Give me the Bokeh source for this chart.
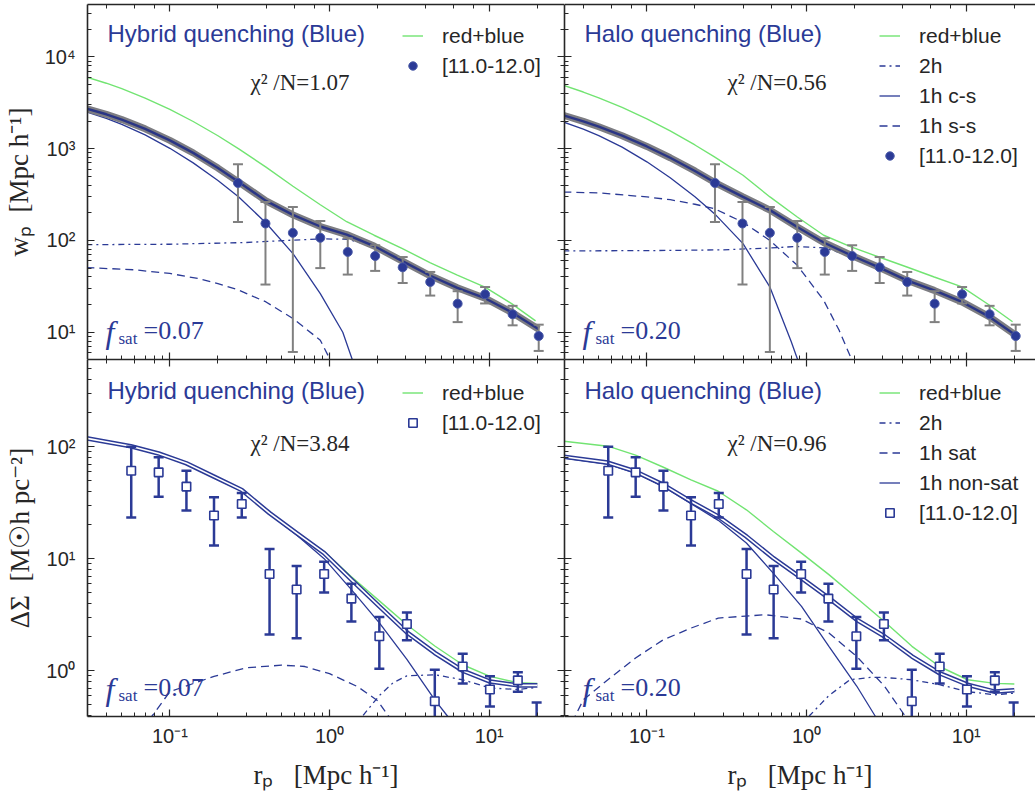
import math
from bokeh.plotting import figure
from bokeh.models import Range1d, Legend, LegendItem, Label, LogAxis, CustomJSTickFormatter
from bokeh.layouts import column, row
from bokeh.embed import file_html
from bokeh.resources import INLINE

# ---------------- data: projected correlation function w_p ----------------
WP_R = [0.267, 0.397, 0.589, 0.875, 1.30, 1.93, 2.87, 4.27, 6.34, 9.42, 14.0, 20.4]
WP = [423, 153, 121, 107, 75, 67.8, 51, 35.3, 20.5, 25.9, 15.7, 9.1]
WP_HI = [676, 262, 232, 163, 106, 88.7, 66, 45.4, 28, 31.1, 19.4, 12.1]
WP_LO = [159, 33.1, 6.1, 50, 42.5, 46.6, 34.4, 25.1, 12.9, 20.6, 11.9, 6.26]

# ---------------- data: lensing Delta Sigma ----------------
DS_R = [0.0573, 0.0851, 0.127, 0.189, 0.282, 0.421, 0.622, 0.925, 1.37, 2.05, 3.05, 4.56, 6.82, 10.1, 15.1, 19.8]
DS = [61, 59, 44, 24.3, 30.8, 7.3, 5.3, 7.3, 4.4, 2.03, 2.61, 0.533, 1.09, 0.68, 0.82, 0.2]
DS_HI = [100, 80.4, 61, 35.4, 38.5, 12.2, 8.6, 9.4, 5.97, 3.01, 3.31, 1.02, 1.42, 0.89, 0.97, 0.52]
DS_LO = [23.3, 35.8, 26.9, 13.1, 23.3, 2.1, 1.95, 5.0, 2.75, 1.04, 1.87, 0.2, 0.77, 0.48, 0.65, 0.1]

# ---------------- model curves, hybrid quenching, w_p ----------------
HW_GREEN_R = [0.03, 0.04, 0.05, 0.07, 0.1, 0.14, 0.2, 0.27, 0.4, 0.59, 0.875, 1.28, 1.9, 2.84, 4.25, 6.31, 9.4, 13.8, 19.5]
HW_GREEN = [6040, 5165, 4500, 3556, 2673, 1977, 1383, 996, 630, 390, 245, 160, 114, 82, 57.5, 42, 31, 20.5, 13.3]
HW_TOT_R = [0.03, 0.04, 0.05, 0.07, 0.1, 0.14, 0.2, 0.27, 0.4, 0.59, 0.875, 1.28, 1.9, 2.84, 4.25, 6.31, 9.4, 13.8, 20.4]
HW_TOT = [2735, 2370, 2075, 1645, 1230, 900, 615, 433, 270, 190, 142, 116, 87, 60, 41.5, 30.5, 23.5, 16.5, 10.8]
HW_2H_R = [0.03, 0.1, 0.3, 0.6, 0.9, 1.3, 1.9, 2.84, 4.25, 6.31, 9.4, 13.8, 20.4]
HW_2H = [90, 91, 95, 101, 104, 103, 86, 59.5, 41.2, 30.3, 23.3, 16.4, 10.7]
HW_CS_R = [0.03, 0.04, 0.05, 0.07, 0.1, 0.14, 0.2, 0.27, 0.4, 0.59, 0.875, 1.21, 1.39, 1.6]
HW_CS = [2515, 2138, 1841, 1412, 1009, 700, 450, 298, 155, 72, 26.4, 10, 5, 2.5]
HW_SS_R = [0.03, 0.06, 0.1, 0.15, 0.2, 0.27, 0.4, 0.59, 0.875, 1.01, 1.3]
HW_SS = [50.7, 47.9, 43.7, 38.5, 33.9, 28.8, 21.4, 14.1, 8.2, 5.0, 2.2]

# ---------------- model curves, halo quenching, w_p ----------------
QW_GREEN_R = [0.03, 0.04, 0.05, 0.07, 0.1, 0.14, 0.2, 0.265, 0.4, 0.59, 0.875, 1.28, 1.9, 2.84, 4.25, 6.3, 9.4, 14, 19.5]
QW_GREEN = [4900, 4140, 3580, 2812, 2108, 1560, 1097, 813, 513, 298, 180, 114, 85, 66, 51.4, 40, 31.2, 19.7, 13]
QW_TOT_R = [0.03, 0.04, 0.05, 0.07, 0.1, 0.14, 0.2, 0.265, 0.4, 0.59, 0.875, 1.28, 1.9, 2.84, 4.25, 6.3, 9.4, 14, 20.4]
QW_TOT = [2312, 1982, 1734, 1384, 1057, 796, 572, 430, 298, 214, 140, 95, 69, 51, 36.8, 28.6, 21.4, 14.7, 9.3]
QW_2H_R = [0.03, 0.1, 0.3, 0.6, 0.875, 1.28, 1.9, 2.84, 4.25, 6.3, 9.4, 14, 20.4]
QW_2H = [77, 77.5, 79, 83, 86, 83, 68, 50.5, 36.5, 28.3, 21.2, 14.6, 9.2]
QW_CS_R = [0.03, 0.04, 0.05, 0.07, 0.1, 0.14, 0.2, 0.265, 0.4, 0.59, 0.8, 0.9, 1.0]
QW_CS = [1950, 1633, 1386, 1038, 719, 483, 299, 196, 92.5, 31, 8, 4.5, 2]
QW_SS_R = [0.03, 0.05, 0.1, 0.14, 0.2, 0.265, 0.4, 0.59, 0.875, 1.28, 1.6, 1.92, 2.2]
QW_SS = [337, 330, 298, 278, 248, 222, 158, 100, 53.6, 22.3, 10.5, 5, 3]

# ---------------- model curves, hybrid quenching, Delta Sigma ----------------
HD_R = [0.03, 0.057, 0.085, 0.127, 0.189, 0.282, 0.421, 0.622, 0.925, 1.37, 2.05, 3.05, 4.56, 6.82, 10.1, 15.1, 20]
HD_GREEN = [119, 101, 87, 71, 54, 41, 25.7, 17.2, 11.6, 6.9, 4.2, 2.57, 1.66, 1.13, 0.89, 0.78, 0.77]
HD_TOT = [119, 101, 87, 71, 54, 41, 25.5, 16.9, 11.2, 6.5, 3.75, 2.2, 1.44, 1.0, 0.80, 0.74, 0.74]
HD_NS_R = [0.03, 0.057, 0.085, 0.127, 0.189, 0.282, 0.421, 0.622, 0.925, 1.37, 2.05, 3.05, 4.56, 5.5, 6.5]
HD_NS = [117, 100, 86, 70, 53, 40, 25, 16.3, 10, 5.3, 2.67, 1.26, 0.55, 0.39, 0.28]
HD_SAT_R = [0.065, 0.077, 0.1, 0.189, 0.3, 0.5, 0.7, 1.0, 1.5, 2.0, 2.35, 2.6]
HD_SAT = [0.3, 0.39, 0.65, 0.89, 1.06, 1.12, 1.09, 0.94, 0.72, 0.54, 0.39, 0.3]
HD_2H_R = [1.45, 1.6, 2.05, 2.5, 3.05, 4.56, 6.82, 10.1, 15.1, 20]
HD_2H = [0.3, 0.39, 0.6, 0.78, 0.9, 0.92, 0.83, 0.70, 0.68, 0.71]

# ---------------- model curves, halo quenching, Delta Sigma ----------------
QD_R = [0.03, 0.057, 0.085, 0.127, 0.189, 0.28, 0.42, 0.62, 0.93, 1.38, 2.06, 3.07, 4.57, 6.8, 10.2, 15.1, 20]
QD_GREEN = [112, 101, 84, 65.5, 50.5, 40, 27.3, 17.5, 11.2, 7.2, 4.45, 2.75, 1.65, 1.09, 0.83, 0.77, 0.76]
QD_TOT = [81.5, 72, 60, 45.6, 32.4, 23.8, 15.8, 10.1, 6.7, 4.45, 2.85, 2.03, 1.34, 0.95, 0.75, 0.65, 0.67]
QD_NS_R = [0.03, 0.057, 0.085, 0.127, 0.189, 0.28, 0.42, 0.62, 0.93, 1.38, 2.06, 2.7, 3.2]
QD_NS = [79, 70, 58, 44, 31, 22, 13.8, 7.4, 3.75, 1.65, 0.73, 0.39, 0.28]
QD_SAT_R = [0.03, 0.0355, 0.04, 0.057, 0.085, 0.127, 0.189, 0.28, 0.55, 0.93, 1.38, 2.06, 3.07, 4.16, 4.6]
QD_SAT = [0.28, 0.39, 0.55, 0.83, 1.3, 1.89, 2.4, 2.95, 3.16, 2.89, 2.17, 1.34, 0.73, 0.39, 0.3]
QD_2H_R = [0.9, 1.05, 1.38, 1.87, 2.5, 3.07, 4.57, 6.8, 10.2, 15.1, 20]
QD_2H = [0.3, 0.4, 0.6, 0.83, 0.87, 0.87, 0.83, 0.75, 0.65, 0.61, 0.63]

# ---------------- texts ----------------
TITLES = {"hybrid": "Hybrid quenching (Blue)", "halo": "Halo quenching (Blue)"}
CHI2 = {("hybrid", "wp"): "1.07", ("halo", "wp"): "0.56", ("hybrid", "ds"): "3.84", ("halo", "ds"): "0.96"}
FSAT = {"hybrid": "0.07", "halo": "0.20"}
BIN_LABEL = "[11.0-12.0]"
NB = "\u00a0"
X_LABEL = "r\u209a" + NB * 3 + "[Mpc" + NB + "h\u207b\u00b9]"
Y_LABEL_WP = "w\u209a" + NB * 2 + "[Mpc" + NB + "h\u207b\u00b9]"
Y_LABEL_DS = "\u0394\u03a3" + NB * 2 + "[M\u2609h" + NB + "pc\u207b\u00b2]"

# ---------------- style ----------------
BLUE = "#2b3a96"
GREEN = "#72e472"
GRAY = "#808080"
AXC = "#262626"
SANS = "Liberation Sans"
SERIF = "Liberation Serif"
DASH = "8 5"
DASHDOT = "6 4 2 4"

X_START = 0.0305
PX_PER_DEC = 159.7
FW_LEFT, FW_RIGHT = 477, 471
FH_TOP, FH_BOT = 355, 357
Y_WP = (5.05, 37200)
Y_DS = (0.39, 600)

SUP_CODE = """
const sup = {"-": "\u207b", "0": "\u2070", "1": "\u00b9", "2": "\u00b2", "3": "\u00b3",
             "4": "\u2074", "5": "\u2075", "6": "\u2076", "7": "\u2077", "8": "\u2078", "9": "\u2079"};
const e = Math.round(Math.log10(tick));
return "10" + String(e).split("").map(c => sup[c]).join("");
"""


def style_axis(ax, labels):
    ax.axis_line_color = AXC
    ax.axis_line_width = 1.6
    ax.major_tick_line_color = AXC
    ax.minor_tick_line_color = AXC
    ax.major_tick_line_width = 1.2
    ax.minor_tick_line_width = 1.0
    ax.major_tick_in = 7
    ax.major_tick_out = 0
    ax.minor_tick_in = 4
    ax.minor_tick_out = 0
    if labels:
        ax.formatter = CustomJSTickFormatter(code=SUP_CODE)
        ax.major_label_text_font = SANS
        ax.major_label_text_font_size = "20px"
        ax.major_label_text_color = AXC
    else:
        ax.formatter = CustomJSTickFormatter(code="return '';")
        ax.major_label_text_font_size = "1px"
        ax.major_label_standoff = 0
        ax.axis_label = None


def add_text(p, x, y, text, font, size, color, style="normal"):
    p.add_layout(Label(x=x, y=y, x_units="screen", y_units="screen", text=text,
                       text_font=font, text_font_size=size, text_color=color,
                       text_font_style=style, text_baseline="middle", text_align="left"))


def panel(model, kind, left):
    top = kind == "wp"
    fw = FW_LEFT if left else FW_RIGHT
    fh = FH_TOP if top else FH_BOT
    x_end = X_START * 10 ** (fw / PX_PER_DEC)
    yr = Y_WP if top else Y_DS
    p = figure(title=None, x_axis_type="log", y_axis_type="log",
               x_range=Range1d(X_START, x_end), y_range=Range1d(*yr),
               frame_width=fw, frame_height=fh, output_backend="svg", toolbar_location=None,
               min_border_left=87 if left else 0, min_border_right=0,
               min_border_top=4 if top else 0, min_border_bottom=0 if top else 80,
               background_fill_color="white", border_fill_color="white", outline_line_color=None)
    p.xgrid.grid_line_color = None
    p.ygrid.grid_line_color = None

    # axes
    xb = p.xaxis[0]
    style_axis(xb, not top)
    if not top:
        xb.axis_label = X_LABEL
        xb.axis_label_text_font = SERIF
        xb.axis_label_text_font_size = "27px"
        xb.axis_label_text_font_style = "normal"
        xb.axis_label_text_color = AXC
        xb.major_label_standoff = 8
        xb.axis_label_standoff = 10
    yl = p.yaxis[0]
    style_axis(yl, left)
    if left:
        yl.axis_label = Y_LABEL_WP if top else Y_LABEL_DS
        yl.axis_label_text_font = SERIF
        yl.axis_label_text_font_size = "27px"
        yl.axis_label_text_font_style = "normal"
        yl.axis_label_text_color = AXC
        yl.major_label_standoff = 12
        yl.axis_label_standoff = 8
    xa = LogAxis()
    style_axis(xa, False)
    p.add_layout(xa, "above")
    if left:
        yr_ax = LogAxis()
        style_axis(yr_ax, False)
        p.add_layout(yr_ax, "right")

    items = []
    if top:
        if model == "hybrid":
            gr, tr, h2r, csr, ssr = HW_GREEN_R, HW_TOT_R, HW_2H_R, HW_CS_R, HW_SS_R
            g, t, h2, cs, ss = HW_GREEN, HW_TOT, HW_2H, HW_CS, HW_SS
        else:
            gr, tr, h2r, csr, ssr = QW_GREEN_R, QW_TOT_R, QW_2H_R, QW_CS_R, QW_SS_R
            g, t, h2, cs, ss = QW_GREEN, QW_TOT, QW_2H, QW_CS, QW_SS
        rg = p.line(gr, g, line_color=GREEN, line_width=1.4)
        r2 = p.line(h2r, h2, line_color=BLUE, line_width=1.3, line_dash=DASHDOT)
        rss = p.line(ssr, ss, line_color=BLUE, line_width=1.3, line_dash=DASH)
        rcs = p.line(csr, cs, line_color=BLUE, line_width=1.3)
        p.line(tr, t, line_color="#7d7d82", line_width=7)
        p.line(tr, t, line_color="#2a3585", line_width=2.4)
        p.segment(WP_R, WP_LO, WP_R, WP_HI, line_color=GRAY, line_width=2)
        p.scatter(WP_R, WP_HI, marker="dash", size=10, line_color=GRAY, line_width=2)
        p.scatter(WP_R, WP_LO, marker="dash", size=10, line_color=GRAY, line_width=2)
        proxy = p.scatter(WP_R, WP, marker="dash", angle=math.pi / 2, size=1, line_color=GRAY, line_width=2)
        mk = p.scatter(WP_R, WP, marker="circle", size=9, fill_color=BLUE, line_color="#4a5aa8", line_width=1)
        items.append(LegendItem(label="red+blue", renderers=[rg]))
        if model == "halo":
            items.append(LegendItem(label="2h", renderers=[r2]))
            items.append(LegendItem(label="1h c-s", renderers=[rcs]))
            items.append(LegendItem(label="1h s-s", renderers=[rss]))
        items.append(LegendItem(label=BIN_LABEL, renderers=[proxy, mk]))
    else:
        if model == "hybrid":
            gr = tr = HD_R
            g, t = HD_GREEN, HD_TOT
            h2r, h2, nsr, ns, sr, s = HD_2H_R, HD_2H, HD_NS_R, HD_NS, HD_SAT_R, HD_SAT
        else:
            gr = tr = QD_R
            g, t = QD_GREEN, QD_TOT
            h2r, h2, nsr, ns, sr, s = QD_2H_R, QD_2H, QD_NS_R, QD_NS, QD_SAT_R, QD_SAT
        rg = p.line(gr, g, line_color=GREEN, line_width=1.4)
        r2 = p.line(h2r, h2, line_color=BLUE, line_width=1.3, line_dash=DASHDOT)
        rs = p.line(sr, s, line_color=BLUE, line_width=1.3, line_dash=DASH)
        rn = p.line(nsr, ns, line_color=BLUE, line_width=1.3)
        p.line(tr, t, line_color=BLUE, line_width=4.6)
        p.line(tr, t, line_color="white", line_width=1.6)
        p.segment(DS_R, DS_LO, DS_R, DS_HI, line_color=BLUE, line_width=2.5)
        p.scatter(DS_R, DS_HI, marker="dash", size=10, line_color=BLUE, line_width=2.5)
        p.scatter(DS_R, DS_LO, marker="dash", size=10, line_color=BLUE, line_width=2.5)
        proxy = p.scatter(DS_R, DS, marker="dash", angle=math.pi / 2, size=1, line_color=BLUE, line_width=2.5)
        mk = p.scatter(DS_R, DS, marker="square", size=8.5, fill_color="white", line_color=BLUE, line_width=1.6)
        items.append(LegendItem(label="red+blue", renderers=[rg]))
        if model == "halo":
            items.append(LegendItem(label="2h", renderers=[r2]))
            items.append(LegendItem(label="1h sat", renderers=[rs]))
            items.append(LegendItem(label="1h non-sat", renderers=[rn]))
        items.append(LegendItem(label=BIN_LABEL, renderers=[proxy, mk]))

    n = len(items)
    leg_h = n * 27 + (n - 1) * 3 + 16
    top_gap = 2 if top else 4
    leg = Legend(items=items, location=(315, fh - top_gap - leg_h), orientation="vertical",
                 border_line_color=None, background_fill_alpha=0,
                 label_text_font=SANS, label_text_font_size="21px", label_text_color=AXC,
                 glyph_width=21, glyph_height=27, label_height=27, label_standoff=19,
                 spacing=3, padding=8, margin=0)
    p.add_layout(leg)

    # texts
    add_text(p, 20, fh - (29 if top else 31), TITLES[model], SANS, "24px", BLUE)
    add_text(p, 163, fh - (78 if top else 84), "\u03c7\u00b2 /N=" + CHI2[(model, kind)], SERIF, "23px", AXC)
    add_text(p, 18, 28, "f", SERIF, "32px", BLUE, "italic")
    add_text(p, 31, 21, "sat", SERIF, "17px", BLUE)
    add_text(p, 56, 29, "=" + FSAT[model], SERIF, "26px", BLUE)
    return p


tl = panel("hybrid", "wp", True)
tr = panel("halo", "wp", False)
bl = panel("hybrid", "ds", True)
br = panel("halo", "ds", False)

layout = column(row(tl, tr), row(bl, br))
open("out.html", "w").write(file_html(layout, INLINE))
